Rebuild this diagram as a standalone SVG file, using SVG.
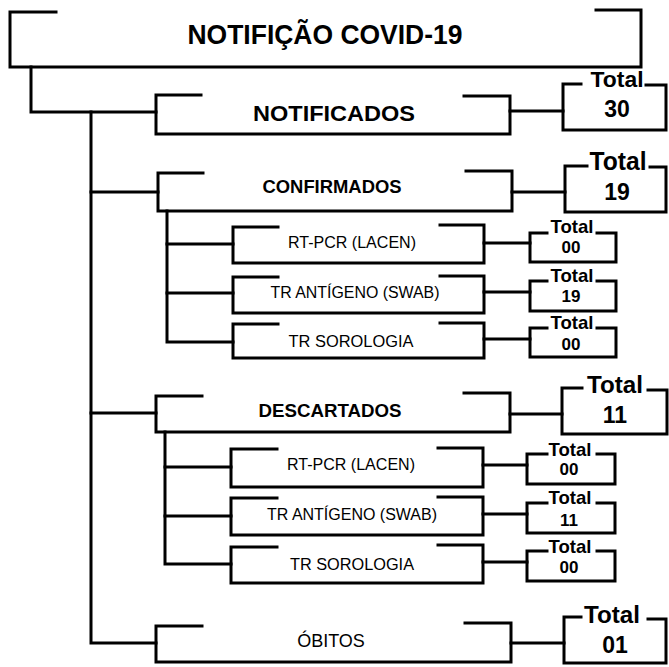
<svg xmlns="http://www.w3.org/2000/svg" width="669" height="667" viewBox="0 0 669 667">
<style>
.b{fill:none;stroke:#000;stroke-width:3;stroke-linejoin:miter;stroke-linecap:square}
.c{fill:none;stroke:#000;stroke-width:3;stroke-linecap:square}
text{font-family:"Liberation Sans",Arial,sans-serif;fill:#000;text-anchor:middle}
.bd{font-weight:bold}
.sub{font-size:16px}
.tb{font-size:23px;font-weight:bold}
.ts{font-size:19px;font-weight:bold}
.ns{font-size:17px;font-weight:bold}
</style>
<rect width="669" height="667" fill="#fff"/>
<g id="connectors">
<path class="c" d="M31,67 V112 H156"/>
<path class="c" d="M91,112 V643 H156"/>
<path class="c" d="M91,192 H158"/>
<path class="c" d="M91,413 H156"/>
<path class="c" d="M510,111 H563"/>
<path class="c" d="M512,192 H565"/>
<path class="c" d="M510,414 H562"/>
<path class="c" d="M511,643 H564"/>
<path class="c" d="M167,211 V342 H233"/>
<path class="c" d="M167,244 H233"/>
<path class="c" d="M167,293 H233"/>
<path class="c" d="M484,243 H530"/>
<path class="c" d="M484,292 H530"/>
<path class="c" d="M484,339 H530"/>
<path class="c" d="M165,432 V564 H231"/>
<path class="c" d="M165,467 H231"/>
<path class="c" d="M165,516 H231"/>
<path class="c" d="M483,465 H527"/>
<path class="c" d="M483,514 H527"/>
<path class="c" d="M483,562 H527"/>
</g>
<g id="title">
<path class="b" d="M56,12 H10 V67 H641 V10 H596"/>
<text class="bd" x="325" y="44" font-size="27" textLength="275" lengthAdjust="spacingAndGlyphs">NOTIFIÇÃO COVID-19</text>
</g>
<g id="notificados">
<path class="b" d="M201,95 H156 V134 H510 V96 H464"/>
<text class="bd" x="334" y="121" font-size="22" textLength="162" lengthAdjust="spacingAndGlyphs">NOTIFICADOS</text>
</g>
<g id="total-notificados">
<path class="b" d="M581,84 H563 V130 H666 V85 H646"/>
<text class="bd" x="617" y="87" font-size="22" textLength="53" lengthAdjust="spacingAndGlyphs">Total</text>
<text class="tb" x="617" y="117">30</text>
</g>
<g id="confirmados">
<path class="b" d="M203,173 H158 V211 H512 V171 H466"/>
<text class="bd" x="332" y="193" font-size="18" textLength="139" lengthAdjust="spacingAndGlyphs">CONFIRMADOS</text>
</g>
<g id="total-confirmados">
<path class="b" d="M587,166 H565 V212 H666 V167 H650"/>
<text class="bd" x="618" y="170" font-size="25" textLength="57" lengthAdjust="spacingAndGlyphs">Total</text>
<text class="tb" x="617" y="200">19</text>
</g>
<g id="conf-rtpcr">
<path class="b" d="M278,227 H233 V263 H484 V225 H440"/>
<text class="sub" x="352" y="248" textLength="128" lengthAdjust="spacingAndGlyphs">RT-PCR (LACEN)</text>
</g>
<g id="conf-rtpcr-total">
<path class="b" d="M547,233 H530 V262 H616 V233 H597"/>
<text class="ts" x="572" y="233" textLength="43" lengthAdjust="spacingAndGlyphs">Total</text>
<text class="ns" x="571" y="253">00</text>
</g>
<g id="conf-antigeno">
<path class="b" d="M278,277 H233 V313 H484 V276 H440"/>
<text class="sub" x="355" y="298" textLength="169" lengthAdjust="spacingAndGlyphs">TR ANTÍGENO (SWAB)</text>
</g>
<g id="conf-antigeno-total">
<path class="b" d="M547,281 H530 V311 H616 V281 H597"/>
<text class="ts" x="572" y="282" textLength="43" lengthAdjust="spacingAndGlyphs">Total</text>
<text class="ns" x="571" y="302">19</text>
</g>
<g id="conf-sorologia">
<path class="b" d="M278,324 H233 V358 H484 V323 H440"/>
<text class="sub" x="351" y="347" textLength="125" lengthAdjust="spacingAndGlyphs">TR SOROLOGIA</text>
</g>
<g id="conf-sorologia-total">
<path class="b" d="M547,328 H530 V357 H616 V328 H597"/>
<text class="ts" x="572" y="329" textLength="43" lengthAdjust="spacingAndGlyphs">Total</text>
<text class="ns" x="571" y="350">00</text>
</g>
<g id="descartados">
<path class="b" d="M202,396 H156 V432 H510 V393 H464"/>
<text class="bd" x="330" y="417" font-size="18.5" textLength="143" lengthAdjust="spacingAndGlyphs">DESCARTADOS</text>
</g>
<g id="total-descartados">
<path class="b" d="M582,388 H562 V434 H667 V390 H648"/>
<text class="bd" x="615" y="393" font-size="24" textLength="56" lengthAdjust="spacingAndGlyphs">Total</text>
<text class="tb" x="615" y="423">11</text>
</g>
<g id="desc-rtpcr">
<path class="b" d="M277,449 H231 V487 H483 V448 H438"/>
<text class="sub" x="351" y="470" textLength="128" lengthAdjust="spacingAndGlyphs">RT-PCR (LACEN)</text>
</g>
<g id="desc-rtpcr-total">
<path class="b" d="M547,454 H527 V484 H615 V454 H597"/>
<text class="ts" x="570" y="456" textLength="43" lengthAdjust="spacingAndGlyphs">Total</text>
<text class="ns" x="569" y="475">00</text>
</g>
<g id="desc-antigeno">
<path class="b" d="M277,498 H231 V535 H483 V497 H438"/>
<text class="sub" x="352" y="520" textLength="170" lengthAdjust="spacingAndGlyphs">TR ANTÍGENO (SWAB)</text>
</g>
<g id="desc-antigeno-total">
<path class="b" d="M547,503 H527 V533 H615 V503 H597"/>
<text class="ts" x="570" y="504" textLength="43" lengthAdjust="spacingAndGlyphs">Total</text>
<text class="ns" x="569" y="526">11</text>
</g>
<g id="desc-sorologia">
<path class="b" d="M277,547 H231 V583 H483 V545 H438"/>
<text class="sub" x="352" y="570" textLength="124" lengthAdjust="spacingAndGlyphs">TR SOROLOGIA</text>
</g>
<g id="desc-sorologia-total">
<path class="b" d="M547,551 H527 V581 H615 V551 H597"/>
<text class="ts" x="570" y="553" textLength="43" lengthAdjust="spacingAndGlyphs">Total</text>
<text class="ns" x="569" y="573">00</text>
</g>
<g id="obitos">
<path class="b" d="M202,626 H156 V662 H511 V623 H465"/>
<text x="331" y="647" font-size="18">ÓBITOS</text>
</g>
<g id="total-obitos">
<path class="b" d="M581,617 H564 V663 H666 V619 H648"/>
<text class="bd" x="612" y="623" font-size="24" textLength="56" lengthAdjust="spacingAndGlyphs">Total</text>
<text class="tb" x="615" y="653">01</text>
</g>
</svg>
